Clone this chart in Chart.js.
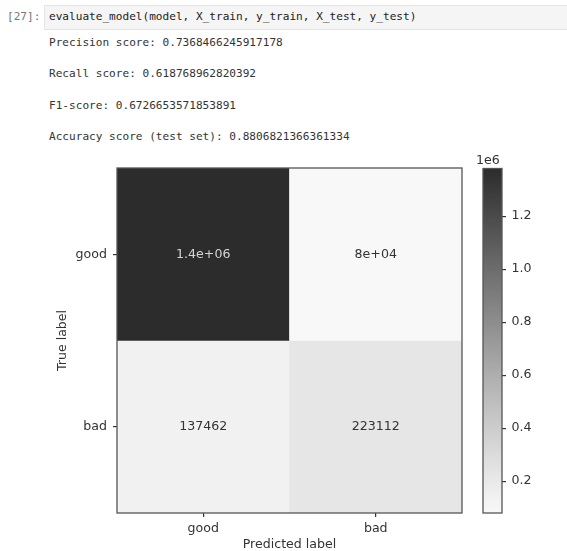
<!DOCTYPE html>
<html>
<head>
<meta charset="utf-8">
<title>evaluate_model</title>
<script src="https://cdn.jsdelivr.net/npm/chart.js@4/dist/chart.umd.min.js"></script>
<style>
  html, body { margin: 0; padding: 0; background: #fff; width: 567px; height: 551px; overflow: hidden; }
  .mono { position: absolute; font-family: "DejaVu Sans Mono", monospace; font-size: 11.1px; line-height: 14px; white-space: pre; color: #333; }
  #prompt { left: 7px; top: 10px; color: #777; }
  #incell { position: absolute; left: 44px; top: 5px; width: 540px; height: 23px; background: #f5f5f5; border: 1px solid #e4e4e4; }
  #code { left: 49px; top: 10px; color: #222; }
  #matrix-wrap { position: absolute; left: 0; top: 150px; width: 470px; height: 401px; }
  #cbar-wrap { position: absolute; left: 470px; top: 150px; width: 97px; height: 401px; }
</style>
</head>
<body>
<div class="mono" id="prompt">[27]:</div>
<div id="incell"></div>
<div class="mono" id="code">evaluate_model(model, X_train, y_train, X_test, y_test)</div>
<div class="mono" style="left:49px;top:36px;">Precision score: 0.7368466245917178</div>
<div class="mono" style="left:49px;top:67px;">Recall score: 0.618768962820392</div>
<div class="mono" style="left:49px;top:99px;">F1-score: 0.6726653571853891</div>
<div class="mono" style="left:49px;top:130px;">Accuracy score (test set): 0.8806821366361334</div>

<div id="matrix-wrap"><canvas id="matrix" width="470" height="401"></canvas></div>
<div id="cbar-wrap"><canvas id="cbar" width="97" height="401"></canvas></div>

<script>
// Confusion matrix counts: rows = true label, columns = predicted label
const trueLabels = ['good', 'bad'];
const predictedLabels = ['good', 'bad'];
const counts = [
  [1379615, 79681],
  [137462, 223112]
];
// Colorbar ticks (in units of 1e6)
const colorbarTicks = [0.2, 0.4, 0.6, 0.8, 1.0, 1.2];
const colorbarExponent = 6;

const FONT = 'DejaVu Sans';
const FS = 12.6;
const TEXT = '#333';
const EDGE = '#555';

const flat = counts.flat();
const vmin = Math.min(...flat);
const vmax = Math.max(...flat);

// Grey colormap on a 0..1 scale: near white at 0, dark grey at 1
function greyAt(t) {
  const g = Math.round(248 - Math.pow(t, 1.1) * (248 - 44));
  return `rgb(${g},${g},${g})`;
}
function grey(v) {
  return greyAt((v - vmin) / (vmax - vmin));
}

// Python-style '.2g', falling back to the plain integer when that is shorter
function formatCount(v) {
  let e = Math.floor(Math.log10(Math.abs(v)));
  let g;
  if (e < -4 || e >= 2) {
    let m = Number((v / Math.pow(10, e)).toPrecision(2));
    if (m >= 10) { m /= 10; e += 1; }
    g = String(m) + 'e' + (e < 0 ? '-' : '+') + String(Math.abs(e)).padStart(2, '0');
  } else {
    g = String(Number(v.toPrecision(2)));
  }
  const d = String(v);
  return d.length < g.length ? d : g;
}

Chart.defaults.font.family = FONT;
Chart.defaults.color = TEXT;

const frame = {
  id: 'frame',
  afterDatasetsDraw(chart, args, opts) {
    const { left, top, right, bottom } = chart.chartArea;
    const ctx = chart.ctx;
    ctx.save();
    ctx.strokeStyle = opts.color;
    ctx.lineWidth = opts.width;
    ctx.strokeRect(left, top, right - left, bottom - top);
    ctx.restore();
  }
};

const cellText = {
  id: 'cellText',
  afterDatasetsDraw(chart) {
    const ctx = chart.ctx;
    const thresh = (vmax + vmin) / 2;
    ctx.save();
    ctx.font = `${FS}px "${FONT}"`;
    ctx.textAlign = 'center';
    ctx.textBaseline = 'middle';
    chart.data.datasets.forEach((ds, i) => {
      chart.getDatasetMeta(i).data.forEach((bar, j) => {
        const v = counts[i][j];
        ctx.fillStyle = v < thresh ? '#333' : '#d4d4d4';
        ctx.fillText(formatCount(v), bar.x, (bar.y + bar.base) / 2);
      });
    });
    ctx.restore();
  }
};

new Chart(document.getElementById('matrix'), {
  type: 'bar',
  data: {
    labels: predictedLabels,
    datasets: counts.map((row, i) => ({
      label: trueLabels[i],
      data: row.map(() => [i, i + 1]),
      backgroundColor: row.map(grey),
      borderWidth: 0,
      barPercentage: 1,
      categoryPercentage: 1,
      grouped: false
    }))
  },
  options: {
    responsive: false,
    animation: false,
    layout: { padding: { left: 0, top: 18, right: 8, bottom: 0 } },
    plugins: {
      legend: { display: false },
      tooltip: { enabled: false },
      frame: { color: EDGE, width: 1.3 }
    },
    scales: {
      x: {
        type: 'category',
        offset: true,
        grid: { offset: false, drawOnChartArea: false, tickLength: 4, color: '#333', lineWidth: 1.2 },
        border: { display: false },
        ticks: { padding: 4, font: { size: FS }, color: TEXT },
        title: { display: true, text: 'Predicted label', font: { size: FS, lineHeight: 1 }, padding: { top: 0, bottom: 0 }, color: TEXT },
        afterFit(scale) { scale.height = 38; }
      },
      y: {
        type: 'linear',
        min: 0,
        max: trueLabels.length,
        reverse: true,
        afterBuildTicks(scale) { scale.ticks = trueLabels.map((_, i) => ({ value: i + 0.5 })); },
        grid: { drawOnChartArea: false, tickLength: 4, color: '#333', lineWidth: 1.2 },
        border: { display: false },
        ticks: { padding: 6, font: { size: FS }, color: TEXT, callback: (v, idx) => trueLabels[idx] },
        title: { display: true, text: 'True label', font: { size: FS, lineHeight: 1 }, padding: { top: 56, bottom: 0 }, color: TEXT },
        afterFit(scale) { scale.width = 117; }
      }
    }
  },
  plugins: [frame, cellText]
});

const offsetText = {
  id: 'offsetText',
  afterDraw(chart) {
    const { left, right, top } = chart.chartArea;
    const ctx = chart.ctx;
    ctx.save();
    ctx.font = `${FS}px "${FONT}"`;
    ctx.fillStyle = TEXT;
    ctx.textAlign = 'center';
    ctx.textBaseline = 'middle';
    ctx.fillText('1e' + colorbarExponent, (left + right) / 2 - 4.7, top - 7.5);
    ctx.restore();
  }
};

const scale = Math.pow(10, colorbarExponent);
new Chart(document.getElementById('cbar'), {
  type: 'bar',
  data: {
    labels: ['counts'],
    datasets: [{
      data: [[vmin, vmax]],
      backgroundColor(c) {
        const chart = c.chart;
        if (!chart.chartArea) return grey(vmin);
        const y = chart.scales.y;
        const g = chart.ctx.createLinearGradient(0, y.getPixelForValue(vmax), 0, y.getPixelForValue(vmin));
        for (let k = 0; k <= 20; k++) {
          g.addColorStop(k / 20, greyAt(1 - k / 20));
        }
        return g;
      },
      borderWidth: 0,
      barPercentage: 1,
      categoryPercentage: 1
    }]
  },
  options: {
    responsive: false,
    animation: false,
    layout: { padding: { left: 13, top: 18.5, right: 0, bottom: 38 } },
    plugins: {
      legend: { display: false },
      tooltip: { enabled: false },
      frame: { color: EDGE, width: 1.3 }
    },
    scales: {
      x: { display: false },
      y: {
        position: 'right',
        min: vmin,
        max: vmax,
        afterBuildTicks(s) { s.ticks = colorbarTicks.map(t => ({ value: t * scale })); },
        grid: { drawOnChartArea: false, tickLength: 4, color: '#333', lineWidth: 1.2 },
        border: { display: false },
        ticks: { padding: 5.5, font: { size: FS }, color: TEXT, callback: v => (v / scale).toFixed(1) },
        afterFit(s) { s.width = 65; }
      }
    }
  },
  plugins: [frame, offsetText]
});
</script>
</body>
</html>
